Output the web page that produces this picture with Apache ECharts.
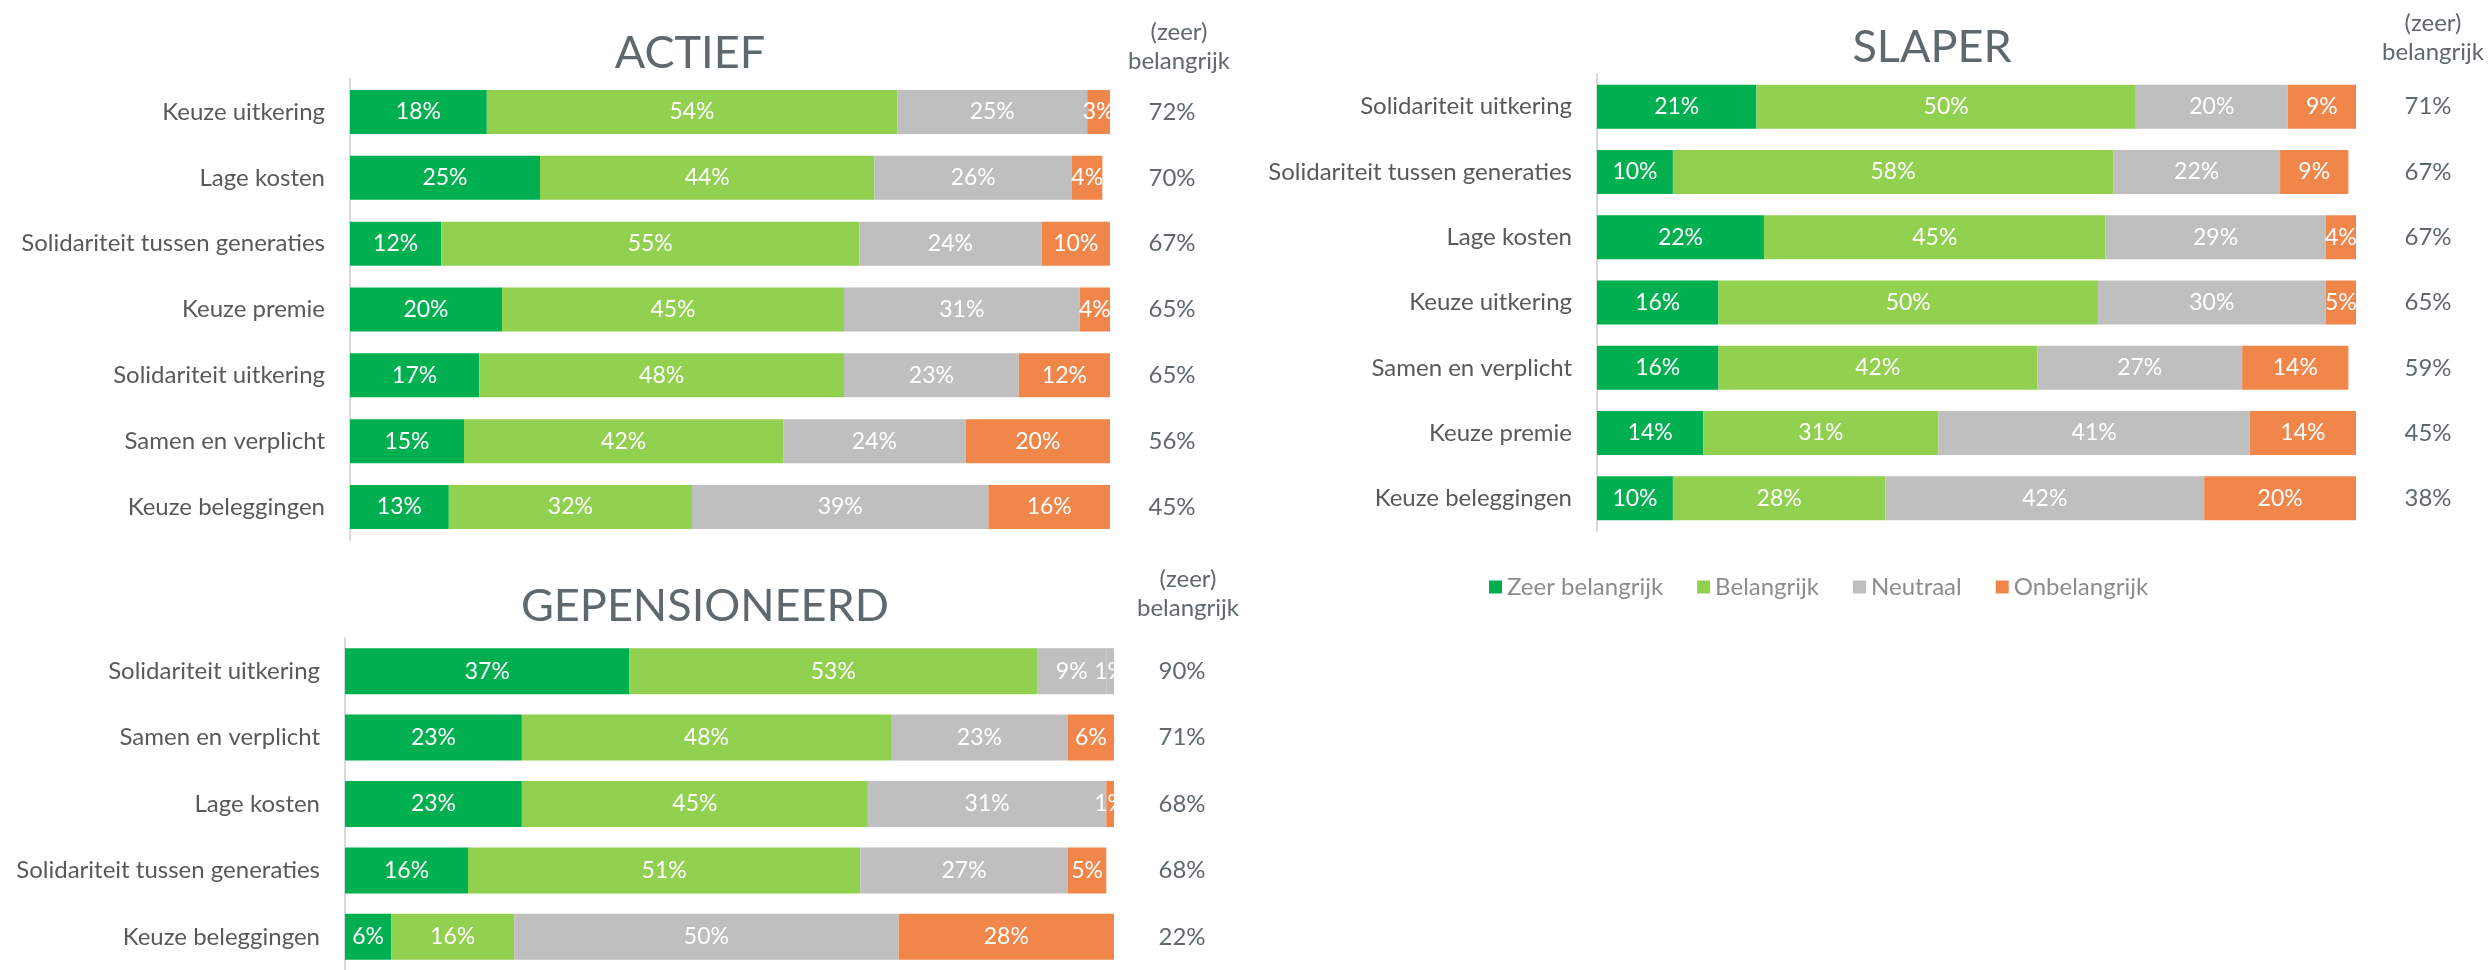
<!DOCTYPE html>
<html>
<head>
<meta charset="utf-8">
<script src="https://cdn.jsdelivr.net/npm/echarts@6/dist/echarts.min.js"></script>
<style>
  html, body { margin: 0; padding: 0; background: #fff; }
  #chart1 { width: 2489px; height: 970px; }
</style>
</head>
<body>
<div id="chart1"></div>
<script>
var names = ['Zeer belangrijk', 'Belangrijk', 'Neutraal', 'Onbelangrijk'];
var colors = ['#00b050', '#92d050', '#bfbfbf', '#f0864a'];

// ACTIEF
var actiefCats = ['Keuze uitkering', 'Lage kosten', 'Solidariteit tussen generaties', 'Keuze premie', 'Solidariteit uitkering', 'Samen en verplicht', 'Keuze beleggingen'];
var actiefZeer = [18, 25, 12, 20, 17, 15, 13];
var actiefBel = [54, 44, 55, 45, 48, 42, 32];
var actiefNeutraal = [25, 26, 24, 31, 23, 24, 39];
var actiefOnbel = [3, 4, 10, 4, 12, 20, 16];
var actiefTotaal = [72, 70, 67, 65, 65, 56, 45];

// SLAPER
var slaperCats = ['Solidariteit uitkering', 'Solidariteit tussen generaties', 'Lage kosten', 'Keuze uitkering', 'Samen en verplicht', 'Keuze premie', 'Keuze beleggingen'];
var slaperZeer = [21, 10, 22, 16, 16, 14, 10];
var slaperBel = [50, 58, 45, 50, 42, 31, 28];
var slaperNeutraal = [20, 22, 29, 30, 27, 41, 42];
var slaperOnbel = [9, 9, 4, 5, 14, 14, 20];
var slaperTotaal = [71, 67, 67, 65, 59, 45, 38];

// GEPENSIONEERD
var gepCats = ['Solidariteit uitkering', 'Samen en verplicht', 'Lage kosten', 'Solidariteit tussen generaties', 'Keuze beleggingen'];
var gepZeer = [37, 23, 23, 16, 6];
var gepBel = [53, 48, 45, 51, 16];
var gepNeutraal = [9, 23, 31, 27, 50];
var gepOnbel = [1, 6, 1, 5, 28];
var gepTotaal = [90, 71, 68, 68, 22];

var font = 'Lato';
var titleColor = '#5e686d';
var labelColor = '#595959';

var panels = [
	{title: 'ACTIEF', cats: actiefCats, vals: [actiefZeer, actiefBel, actiefNeutraal, actiefOnbel], tot: actiefTotaal,
		grid: {left: 350, top: 79, width: 760, height: 461}, barWidth: 44, titleX: 685, titleY: 26, headX: 1174, headY: 13, totMargin: 62},
	{title: 'SLAPER', cats: slaperCats, vals: [slaperZeer, slaperBel, slaperNeutraal, slaperOnbel], tot: slaperTotaal,
		grid: {left: 1597, top: 74, width: 759, height: 457}, barWidth: 44, titleX: 1927, titleY: 20, headX: 2428, headY: 4, totMargin: 72},
	{title: 'GEPENSIONEERD', cats: gepCats, vals: [gepZeer, gepBel, gepNeutraal, gepOnbel], tot: gepTotaal,
		grid: {left: 345, top: 638, width: 769, height: 342}, barWidth: 46, titleX: 700, titleY: 579, headX: 1183, headY: 560, totMargin: 68}
];

var titles = [], grids = [], xAxes = [], yAxes = [], series = [];
panels.forEach(function (p, g) {
	titles.push({
		text: p.title, left: p.titleX, top: p.titleY, textAlign: 'center',
		textStyle: {fontFamily: font, fontSize: 45, fontWeight: 'normal', color: titleColor}
	});
	titles.push({
		text: '(zeer)\nbelangrijk', left: p.headX, top: p.headY, textAlign: 'center',
		textStyle: {fontFamily: font, fontSize: 24, fontWeight: 'normal', lineHeight: 29, color: titleColor}
	});
	grids.push(p.grid);
	xAxes.push({type: 'value', gridIndex: g, min: 0, max: 100, show: false});
	yAxes.push({
		type: 'category', gridIndex: g, data: p.cats, inverse: true,
		axisLine: {show: true, lineStyle: {color: '#d9d9d9', width: 2}},
		axisTick: {show: false},
		axisLabel: {fontFamily: font, fontSize: 24, color: labelColor, margin: 25}
	});
	yAxes.push({
		type: 'category', gridIndex: g, position: 'right', inverse: true,
		data: p.tot.map(function (v) { return v + '%'; }),
		axisLine: {show: false}, axisTick: {show: false},
		axisLabel: {fontFamily: font, fontSize: 24, color: titleColor, margin: p.totMargin, align: 'center'}
	});
	p.vals.forEach(function (vals, k) {
		var data = vals;
		if (g === 2 && k === 3) {
			// 1% in the first row is drawn in the grey of the neutral bar
			data = vals.map(function (v, i) { return i === 0 ? {value: v, itemStyle: {color: colors[2]}} : v; });
		}
		series.push({
			name: names[k], type: 'bar', stack: 'p' + g,
			xAxisIndex: g, yAxisIndex: g * 2,
			barWidth: p.barWidth,
			itemStyle: {color: colors[k]},
			label: {show: true, position: 'inside', color: '#fff', fontFamily: font, fontSize: 23, formatter: '{c}%'},
			data: data
		});
	});
});

var option = {
	animation: false,
	color: colors,
	title: titles,
	legend: {
		data: names, left: 1484, top: 570, itemWidth: 13, itemHeight: 13, itemGap: 34,
		icon: 'rect',
		textStyle: {fontFamily: font, fontSize: 24, color: '#8c8c8c'}
	},
	grid: grids,
	xAxis: xAxes,
	yAxis: yAxes,
	series: series
};
var chart1 = echarts.init(document.getElementById('chart1'));
chart1.setOption(option);
</script>
</body>
</html>
